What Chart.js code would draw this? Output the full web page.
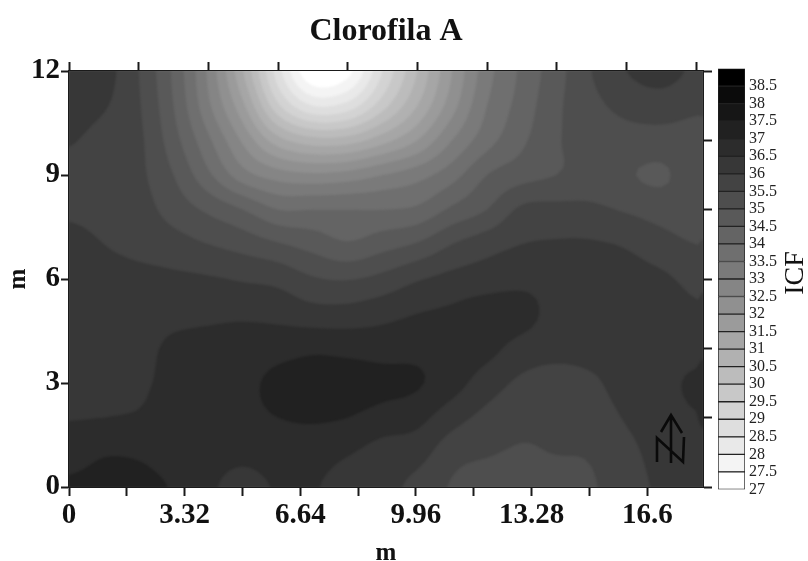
<!DOCTYPE html>
<html>
<head>
<meta charset="utf-8">
<title>Clorofila A</title>
<script src="https://cdn.jsdelivr.net/npm/chart.js@4"></script>
<style>
body { margin: 0; background: #fff; }
#wrap { position: relative; width: 808px; height: 561px; overflow: hidden; }
#mapChart { position: absolute; left: 0; top: 0; }
#barChart { position: absolute; left: 718px; top: 55px; }
#icfLabel { position: absolute; left: 764px; top: 258px; width: 60px; text-align: center;
  font: 28px/30px 'Liberation Serif', serif; color: #111; transform: rotate(-90deg); }
</style>
</head>
<body>
<div id="wrap">
  <canvas id="mapChart" width="808" height="561"></canvas>
  <canvas id="barChart" width="87" height="448"></canvas>
  <div id="icfLabel">ICF</div>
</div>
<script>
// values, metres along x and y
var gridX = [0, 1, 2, 3, 4, 5, 6, 7, 8, 9, 10, 11, 12, 13, 14, 15, 16, 17, 18, 18.2];
var gridY = [12, 11, 10, 9, 8, 7, 6, 5, 4, 3, 2, 1, 0];

var row12 = [36.4, 36.2, 35.5, 34.4, 32.9, 31.0, 28.7, 27.0, 27.3, 29.0, 30.5, 32.0, 33.3, 34.1, 34.8, 35.5, 36.0, 36.2, 35.9, 35.8];
var row11 = [36.25, 36.05, 35.55, 34.5, 33.1, 31.6, 29.6, 28.5, 28.7, 29.8, 31.0, 32.3, 33.5, 34.2, 34.9, 35.35, 35.65, 35.75, 35.6, 35.6];
var row10 = [36.05, 35.8, 35.6, 34.7, 33.6, 32.4, 31.2, 30.7, 30.75, 31.3, 32.0, 33.0, 33.8, 34.4, 34.95, 35.2, 35.3, 35.3, 35.3, 35.3];
var row9 = [35.8, 35.7, 35.6, 35.0, 34.1, 33.2, 32.75, 32.6, 32.7, 33.0, 33.3, 33.8, 34.5, 34.8, 35.0, 35.2, 35.05, 34.92, 35.3, 35.3];
var row8 = [35.9, 35.8, 35.7, 35.3, 34.9, 34.5, 34.0, 34.0, 34.0, 34.0, 34.1, 34.6, 35.0, 35.6, 35.65, 35.6, 35.45, 35.3, 35.25, 35.25];
var row7 = [36.2, 36.0, 35.85, 35.7, 35.5, 35.3, 35.05, 34.8, 34.55, 34.8, 35.05, 35.5, 35.8, 36.0, 36.05, 36.05, 35.95, 35.7, 35.5, 35.55];
var row6 = [36.25, 36.2, 36.15, 36.1, 36.05, 35.95, 35.85, 35.55, 35.47, 35.65, 35.95, 36.15, 36.25, 36.35, 36.3, 36.2, 36.2, 36.1, 35.85, 35.9];
var row5 = [36.3, 36.3, 36.3, 36.35, 36.4, 36.42, 36.35, 36.2, 36.2, 36.33, 36.5, 36.6, 36.75, 36.7, 36.3, 36.25, 36.3, 36.3, 36.1, 36.15];
var row4 = [36.35, 36.35, 36.35, 36.6, 36.65, 36.7, 36.8, 36.9, 36.85, 36.8, 36.85, 36.75, 36.65, 36.3, 36.15, 36.2, 36.3, 36.35, 36.3, 36.4];
var row3 = [36.4, 36.42, 36.42, 36.65, 36.75, 36.85, 37.15, 37.25, 37.25, 37.15, 37.05, 36.7, 36.25, 35.9, 35.8, 35.9, 36.25, 36.35, 36.6, 36.7];
var row2 = [36.48, 36.5, 36.55, 36.7, 36.75, 36.85, 37.0, 37.05, 37.0, 36.8, 36.65, 36.2, 35.85, 35.65, 35.6, 35.7, 36.05, 36.3, 36.47, 36.55];
var row1 = [36.75, 36.95, 36.92, 36.75, 36.7, 36.65, 36.75, 36.75, 36.55, 36.3, 36.2, 35.7, 35.55, 35.45, 35.52, 35.55, 35.85, 36.2, 36.35, 36.4];
var row0 = [37.1, 37.2, 37.2, 36.95, 36.6, 36.3, 36.55, 36.55, 36.2, 36.15, 35.85, 35.45, 35.25, 35.3, 35.2, 35.45, 35.75, 36.1, 36.25, 36.3];
var icfRows = [row12, row11, row10, row9, row8, row7, row6, row5, row4, row3, row2, row1, row0];

var bandLevels = [27, 27.5, 28, 28.5, 29, 29.5, 30, 30.5, 31, 31.5, 32, 32.5, 33, 33.5, 34, 34.5, 35, 35.5, 36, 36.5, 37, 37.5, 38, 38.5, 39];

var bottomTicks = [0, 1.66, 3.32, 4.98, 6.64, 8.3, 9.96, 11.62, 13.28, 14.94, 16.6];
var bottomLabels = ['0', '', '3.32', '', '6.64', '', '9.96', '', '13.28', '', '16.6'];
var topTicks = [0, 2, 4, 6, 8, 10, 12, 14, 16, 18];
var leftTicks = [0, 3, 6, 9, 12];
var rightTicks = [0, 2, 4, 6, 8, 10, 12];

var serif = "'Liberation Serif', serif";
var axisColor = '#1a1a1a';

// white at 27, black at the top band
function bandColor(i) {
    var g = Math.round(255 * (1 - i / (bandLevels.length - 2)));
    return 'rgb(' + g + ',' + g + ',' + g + ')';
}

function catmull(a, b, c, d, t) {
    return b + 0.5 * t * (c - a + t * (2 * a - 5 * b + 4 * c - d + t * (3 * (b - c) + d - a)));
}

function clampIdx(i, n) {
    return Math.max(0, Math.min(n - 1, i));
}

function icfAt(col, row) {
    var c = Math.floor(col), r = Math.floor(row);
    var tc = col - c, tr = row - r;
    var vals = [];
    for (var j = -1; j <= 2; j++) {
        var line = icfRows[clampIdx(r + j, gridY.length)];
        vals.push(catmull(line[clampIdx(c - 1, gridX.length)], line[clampIdx(c, gridX.length)],
            line[clampIdx(c + 1, gridX.length)], line[clampIdx(c + 2, gridX.length)], tc));
    }
    return catmull(vals[0], vals[1], vals[2], vals[3], tr);
}

// filled contours: one path per band level, through the chart's own scales
var contourPlugin = {
    id: 'contour',
    beforeDatasetsDraw: function (chart) {
        var ctx = chart.ctx, xs = chart.scales.x, ys = chart.scales.y;
        var steps = 5;
        var fine = [];
        for (var r = 0; r <= (gridY.length - 1) * steps; r++) {
            var rowIdx = r / steps;
            var r0 = Math.min(Math.floor(rowIdx), gridY.length - 2);
            var yVal = gridY[r0] + (rowIdx - r0) * (gridY[r0 + 1] - gridY[r0]);
            var line = [];
            for (var c = 0; c <= (gridX.length - 1) * steps; c++) {
                var colIdx = c / steps;
                var c0 = Math.min(Math.floor(colIdx), gridX.length - 2);
                var xVal = gridX[c0] + (colIdx - c0) * (gridX[c0 + 1] - gridX[c0]);
                line.push({ px: xs.getPixelForValue(xVal), py: ys.getPixelForValue(yVal), v: icfAt(colIdx, rowIdx) });
            }
            fine.push(line);
        }
        var area = chart.chartArea;
        ctx.save();
        ctx.beginPath();
        ctx.rect(area.left, area.top, area.right - area.left, area.bottom - area.top);
        ctx.clip();
        ctx.fillStyle = bandColor(0);
        ctx.fillRect(area.left, area.top, area.right - area.left, area.bottom - area.top);
        // the source picture is soft, so the band edges are too
        ctx.filter = 'blur(0.9px)';
        for (var i = 1; i < bandLevels.length - 1; i++) {
            var level = bandLevels[i];
            var path = new Path2D();
            for (var a = 0; a < fine.length - 1; a++) {
                for (var b = 0; b < fine[a].length - 1; b++) {
                    var cell = [fine[a][b], fine[a][b + 1], fine[a + 1][b + 1], fine[a + 1][b]];
                    var poly = [];
                    for (var k = 0; k < 4; k++) {
                        var p = cell[k], q = cell[(k + 1) % 4];
                        if (p.v >= level) poly.push([p.px, p.py]);
                        if ((p.v >= level) !== (q.v >= level)) {
                            var t = (level - p.v) / (q.v - p.v);
                            poly.push([p.px + t * (q.px - p.px), p.py + t * (q.py - p.py)]);
                        }
                    }
                    if (poly.length < 3) continue;
                    path.moveTo(poly[0][0], poly[0][1]);
                    for (var m = 1; m < poly.length; m++) path.lineTo(poly[m][0], poly[m][1]);
                    path.closePath();
                }
            }
            ctx.fillStyle = bandColor(i);
            ctx.fill(path);
        }
        ctx.restore();
    },
    afterDatasetsDraw: function (chart) {
        // north arrow in the lower right corner
        var ctx = chart.ctx, r = chart.chartArea.right, b = chart.chartArea.bottom;
        ctx.save();
        ctx.strokeStyle = '#0a0a0a';
        ctx.lineWidth = 2.6;
        ctx.beginPath();
        ctx.moveTo(r - 32, b - 24);
        ctx.lineTo(r - 32, b - 72);
        ctx.moveTo(r - 42, b - 55);
        ctx.lineTo(r - 32, b - 72);
        ctx.lineTo(r - 21, b - 54);
        ctx.moveTo(r - 46, b - 25);
        ctx.lineTo(r - 46, b - 49);
        ctx.lineTo(r - 20, b - 25);
        ctx.lineTo(r - 19, b - 50);
        ctx.stroke();
        ctx.restore();
    }
};

function fixedTicks(list) {
    return function (scale) {
        scale.ticks = list.map(function (v) { return { value: v }; });
    };
}

function fixedSize(prop, size) {
    return function (scale) { scale[prop] = size; };
}

var gridPoints = [];
icfRows.forEach(function (line, r) {
    line.forEach(function (v, c) {
        gridPoints.push({ x: gridX[c], y: gridY[r], v: v });
    });
});

new Chart(document.getElementById('mapChart').getContext('2d'), {
    type: 'scatter',
    data: { datasets: [{ label: 'ICF', data: gridPoints, pointRadius: 0, showLine: false }] },
    options: {
        responsive: false,
        animation: false,
        layout: { padding: 0 },
        plugins: {
            legend: { display: false },
            tooltip: { enabled: false },
            title: {
                display: true,
                text: 'Clorofila A',
                fullSize: false,
                color: '#111',
                font: { family: serif, size: 32, weight: 'bold' },
                padding: { top: 13, bottom: 9.6 }
            }
        },
        scales: {
            x: {
                type: 'linear', position: 'bottom', min: 0, max: 18.2, z: 1,
                grid: { display: true, drawOnChartArea: false, tickLength: 9, tickColor: axisColor, tickWidth: 2 },
                border: { color: axisColor, width: 2 },
                afterBuildTicks: fixedTicks(bottomTicks),
                afterFit: fixedSize('height', 74),
                ticks: {
                    autoSkip: false, maxRotation: 0, padding: 2, color: '#111',
                    font: { family: serif, size: 29, weight: 'bold' },
                    callback: function (v, i) { return bottomLabels[i]; }
                },
                title: {
                    display: true, text: 'm', color: '#111',
                    font: { family: serif, size: 25, weight: 'bold' },
                    padding: { top: 0, bottom: -8 }
                }
            },
            xTop: {
                type: 'linear', position: 'top', min: 0, max: 18.2, z: 1,
                grid: { display: true, drawOnChartArea: false, tickLength: 9, tickColor: axisColor, tickWidth: 2 },
                border: { color: axisColor, width: 2 },
                afterBuildTicks: fixedTicks(topTicks),
                afterFit: fixedSize('height', 10),
                ticks: { display: false }
            },
            y: {
                type: 'linear', position: 'left', min: 0, max: 12, z: 1,
                grid: { display: true, drawOnChartArea: false, tickLength: 8, tickColor: axisColor, tickWidth: 2 },
                border: { color: axisColor, width: 2 },
                afterBuildTicks: fixedTicks(leftTicks),
                afterFit: fixedSize('width', 69),
                ticks: {
                    padding: 1, color: '#111',
                    font: { family: serif, size: 29, weight: 'bold' },
                    callback: function (v) { return String(v); }
                },
                title: {
                    display: true, text: 'm', color: '#111',
                    font: { family: serif, size: 25, weight: 'bold' },
                    padding: { top: 4, bottom: 0 }
                }
            },
            yRight: {
                type: 'linear', position: 'right', min: 0, max: 12, z: 1,
                grid: { display: true, drawOnChartArea: false, tickLength: 9, tickColor: axisColor, tickWidth: 2 },
                border: { color: axisColor, width: 2 },
                afterBuildTicks: fixedTicks(rightTicks),
                afterFit: fixedSize('width', 105),
                ticks: { display: false }
            }
        }
    },
    plugins: [contourPlugin]
});

// colour bar, one floating bar per band
var bandSets = [];
for (var i = 0; i < bandLevels.length - 1; i++) {
    bandSets.push({
        data: [[bandLevels[i], bandLevels[i + 1]]],
        backgroundColor: bandColor(i),
        borderColor: '#222',
        borderWidth: 1,
        borderSkipped: false,
        categoryPercentage: 1,
        barPercentage: 1,
        grouped: false
    });
}

new Chart(document.getElementById('barChart').getContext('2d'), {
    type: 'bar',
    data: { labels: ['ICF'], datasets: bandSets },
    options: {
        responsive: false,
        animation: false,
        layout: { padding: { top: 7, bottom: 7 } },
        plugins: { legend: { display: false }, tooltip: { enabled: false } },
        scales: {
            x: { display: false },
            y: {
                position: 'right', min: 27, max: 39,
                grid: { display: false, drawTicks: false },
                border: { display: false },
                afterBuildTicks: fixedTicks(bandLevels),
                afterFit: fixedSize('width', 60),
                ticks: {
                    autoSkip: false, padding: 4, color: '#222',
                    font: { family: serif, size: 16 },
                    callback: function (v) { return v === 39 ? '' : String(v); }
                }
            }
        }
    }
});
</script>
</body>
</html>
